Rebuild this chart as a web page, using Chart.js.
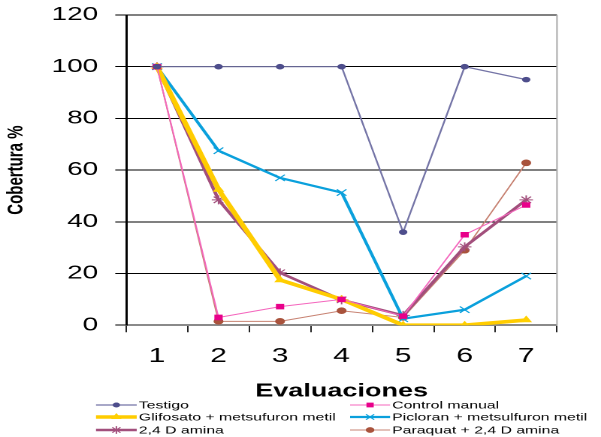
<!DOCTYPE html>
<html><head><meta charset="utf-8">
<script src="https://cdn.jsdelivr.net/npm/chart.js@4"></script>
<style>
html,body{margin:0;padding:0;background:#fff;overflow:hidden;width:601px;height:437px}
#wrap{position:absolute;left:0;top:0;width:400px;height:437px;transform:scaleX(1.5025);transform-origin:0 0}
</style></head>
<body><div id="wrap"><canvas id="c"></canvas></div>
<script>
const categories = ['1','2','3','4','5','6','7'];
const yMin = 0, yMax = 120, yStep = 20;
const seriesNames = ['Testigo','Control manual','Glifosato + metsufuron metil','Picloran + metsulfuron metil','2,4 D amina','Paraquat + 2,4 D amina'];
const testigo       = [100, 100, 100, 100, 36, 100, 95];
const controlManual = [100, 3, 7.2, 10, 3.5, 35, 46.5];
const glifosato     = [100, 52.5, 17.5, 10, 0, 0, 2];
const picloran      = [100, 67.5, 57, 51.3, 2.5, 6, 19];
const amina24D      = [100, 48.5, 20.3, 9.8, 3.8, 30.3, 48.5];
const paraquat      = [100, 1.5, 1.5, 5.6, 3, 29, 62.8];

const FONT = "'Liberation Sans', Arial, sans-serif";

const styles = [
  {line:'#7474a6', pt:'#4e4e8c', w:1.2, ps:'circle', r:2.3},
  {line:'#f466bd', pt:'#e8008a', w:1.0, ps:'rect', r:3.2},
  {line:'#ffcc00', pt:'#ffd000', w:3.6, ps:'triangle', r:3.5},
  {line:'#0aa0dc', pt:'#0aa0dc', w:2.2, ps:'crossRot', r:4.5},
  {line:'#a24f7c', pt:'#a24f7c', w:2.4, ps:'star', r:4.5},
  {line:'#c78272', pt:'#a9533c', w:1.0, ps:'circle', r:2.8}
];
const values = [testigo, controlManual, glifosato, picloran, amina24D, paraquat];

const datasets = values.map((v,i)=>({
  label: seriesNames[i],
  data: v,
  borderColor: styles[i].line,
  backgroundColor: styles[i].pt,
  borderWidth: styles[i].w,
  pointStyle: styles[i].ps,
  pointRadius: styles[i].r,
  pointBorderColor: styles[i].pt,
  pointBackgroundColor: styles[i].pt,
  pointBorderWidth: 1,
  tension: 0,
  fill: false
}));

const legendPlugin = {
  id: 'twoColLegend',
  afterDraw(chart){
    const ctx = chart.ctx;
    const cols = [{x1:63.9, x2:91, tx:92.4},{x1:233, x2:259.6, tx:261}];
    const rows = [405, 417, 430];
    ctx.save();
    chart.data.datasets.forEach((ds,i)=>{
      const c = cols[i%2], y = rows[Math.floor(i/2)];
      ctx.strokeStyle = ds.borderColor;
      ctx.lineWidth = ds.borderWidth;
      ctx.beginPath(); ctx.moveTo(c.x1,y); ctx.lineTo(c.x2,y); ctx.stroke();
      const opts = {pointStyle: ds.pointStyle, radius: ds.pointRadius*0.85, rotation:0, borderWidth:1};
      ctx.fillStyle = ds.pointBackgroundColor; ctx.strokeStyle = ds.pointBorderColor; ctx.lineWidth = 1;
      if (Chart.helpers && Chart.helpers.drawPoint) Chart.helpers.drawPoint(ctx, opts, (c.x1+c.x2)/2, y);
      ctx.fillStyle = '#000';
      ctx.font = "10.5px " + FONT;
      ctx.textBaseline = 'middle';
      ctx.textAlign = 'left';
      ctx.fillText(ds.label, c.tx, y+0.5);
    });
    ctx.restore();
  }
};

const rightBorder = {
  id:'rightBorder',
  afterDatasetsDraw(chart){
    const {ctx, chartArea:a} = chart;
    ctx.save(); ctx.strokeStyle='#a8a8a8'; ctx.lineWidth=1;
    ctx.beginPath(); ctx.moveTo(a.right, a.top); ctx.lineTo(a.right, a.bottom); ctx.stroke();
    ctx.restore();
  }
};

new Chart(document.getElementById('c'), {
  type:'line',
  data:{labels:categories, datasets},
  plugins:[legendPlugin, rightBorder],
  options:{
    responsive:true, maintainAspectRatio:false, animation:false,
    devicePixelRatio: 2,
    layout:{padding:{left:0, right:29.3, top:15, bottom:33.8}},
    plugins:{legend:{display:false}, tooltip:{enabled:false}},
    scales:{
      x:{
        offset:true,
        grid:{offset:true, drawOnChartArea:false, tickLength:7, tickColor:'#222', color:'#222', lineWidth:1},
        border:{display:true, color:'#8a8a8a', width:2},
        ticks:{color:'#000', font:{family:FONT, size:20}, padding:12.5, maxRotation:0},
        title:{display:true, text:'Evaluaciones', color:'#000', font:{family:FONT, size:18, weight:'bold'}, padding:{top:0,bottom:1}},
        afterFit(s){ s.height = 78; }
      },
      y:{
        min:yMin, max:yMax,
        ticks:{stepSize:yStep, color:'#000', font:{family:FONT, size:18.5}, padding:11.4},
        grid:{color:'#000', lineWidth:1, tickLength:7.3, tickColor:'#000'},
        border:{display:true, color:'#000', width:1.5},
        title:{display:true, text:'Cobertura %', color:'#000', font:{family:FONT, size:15, weight:'bold'}, padding:{top:2,bottom:0}},
        afterFit(s){ s.width = 84; s.paddingTop = 5; s.paddingBottom = 5; }
      }
    }
  }
});
</script>
</body></html>
